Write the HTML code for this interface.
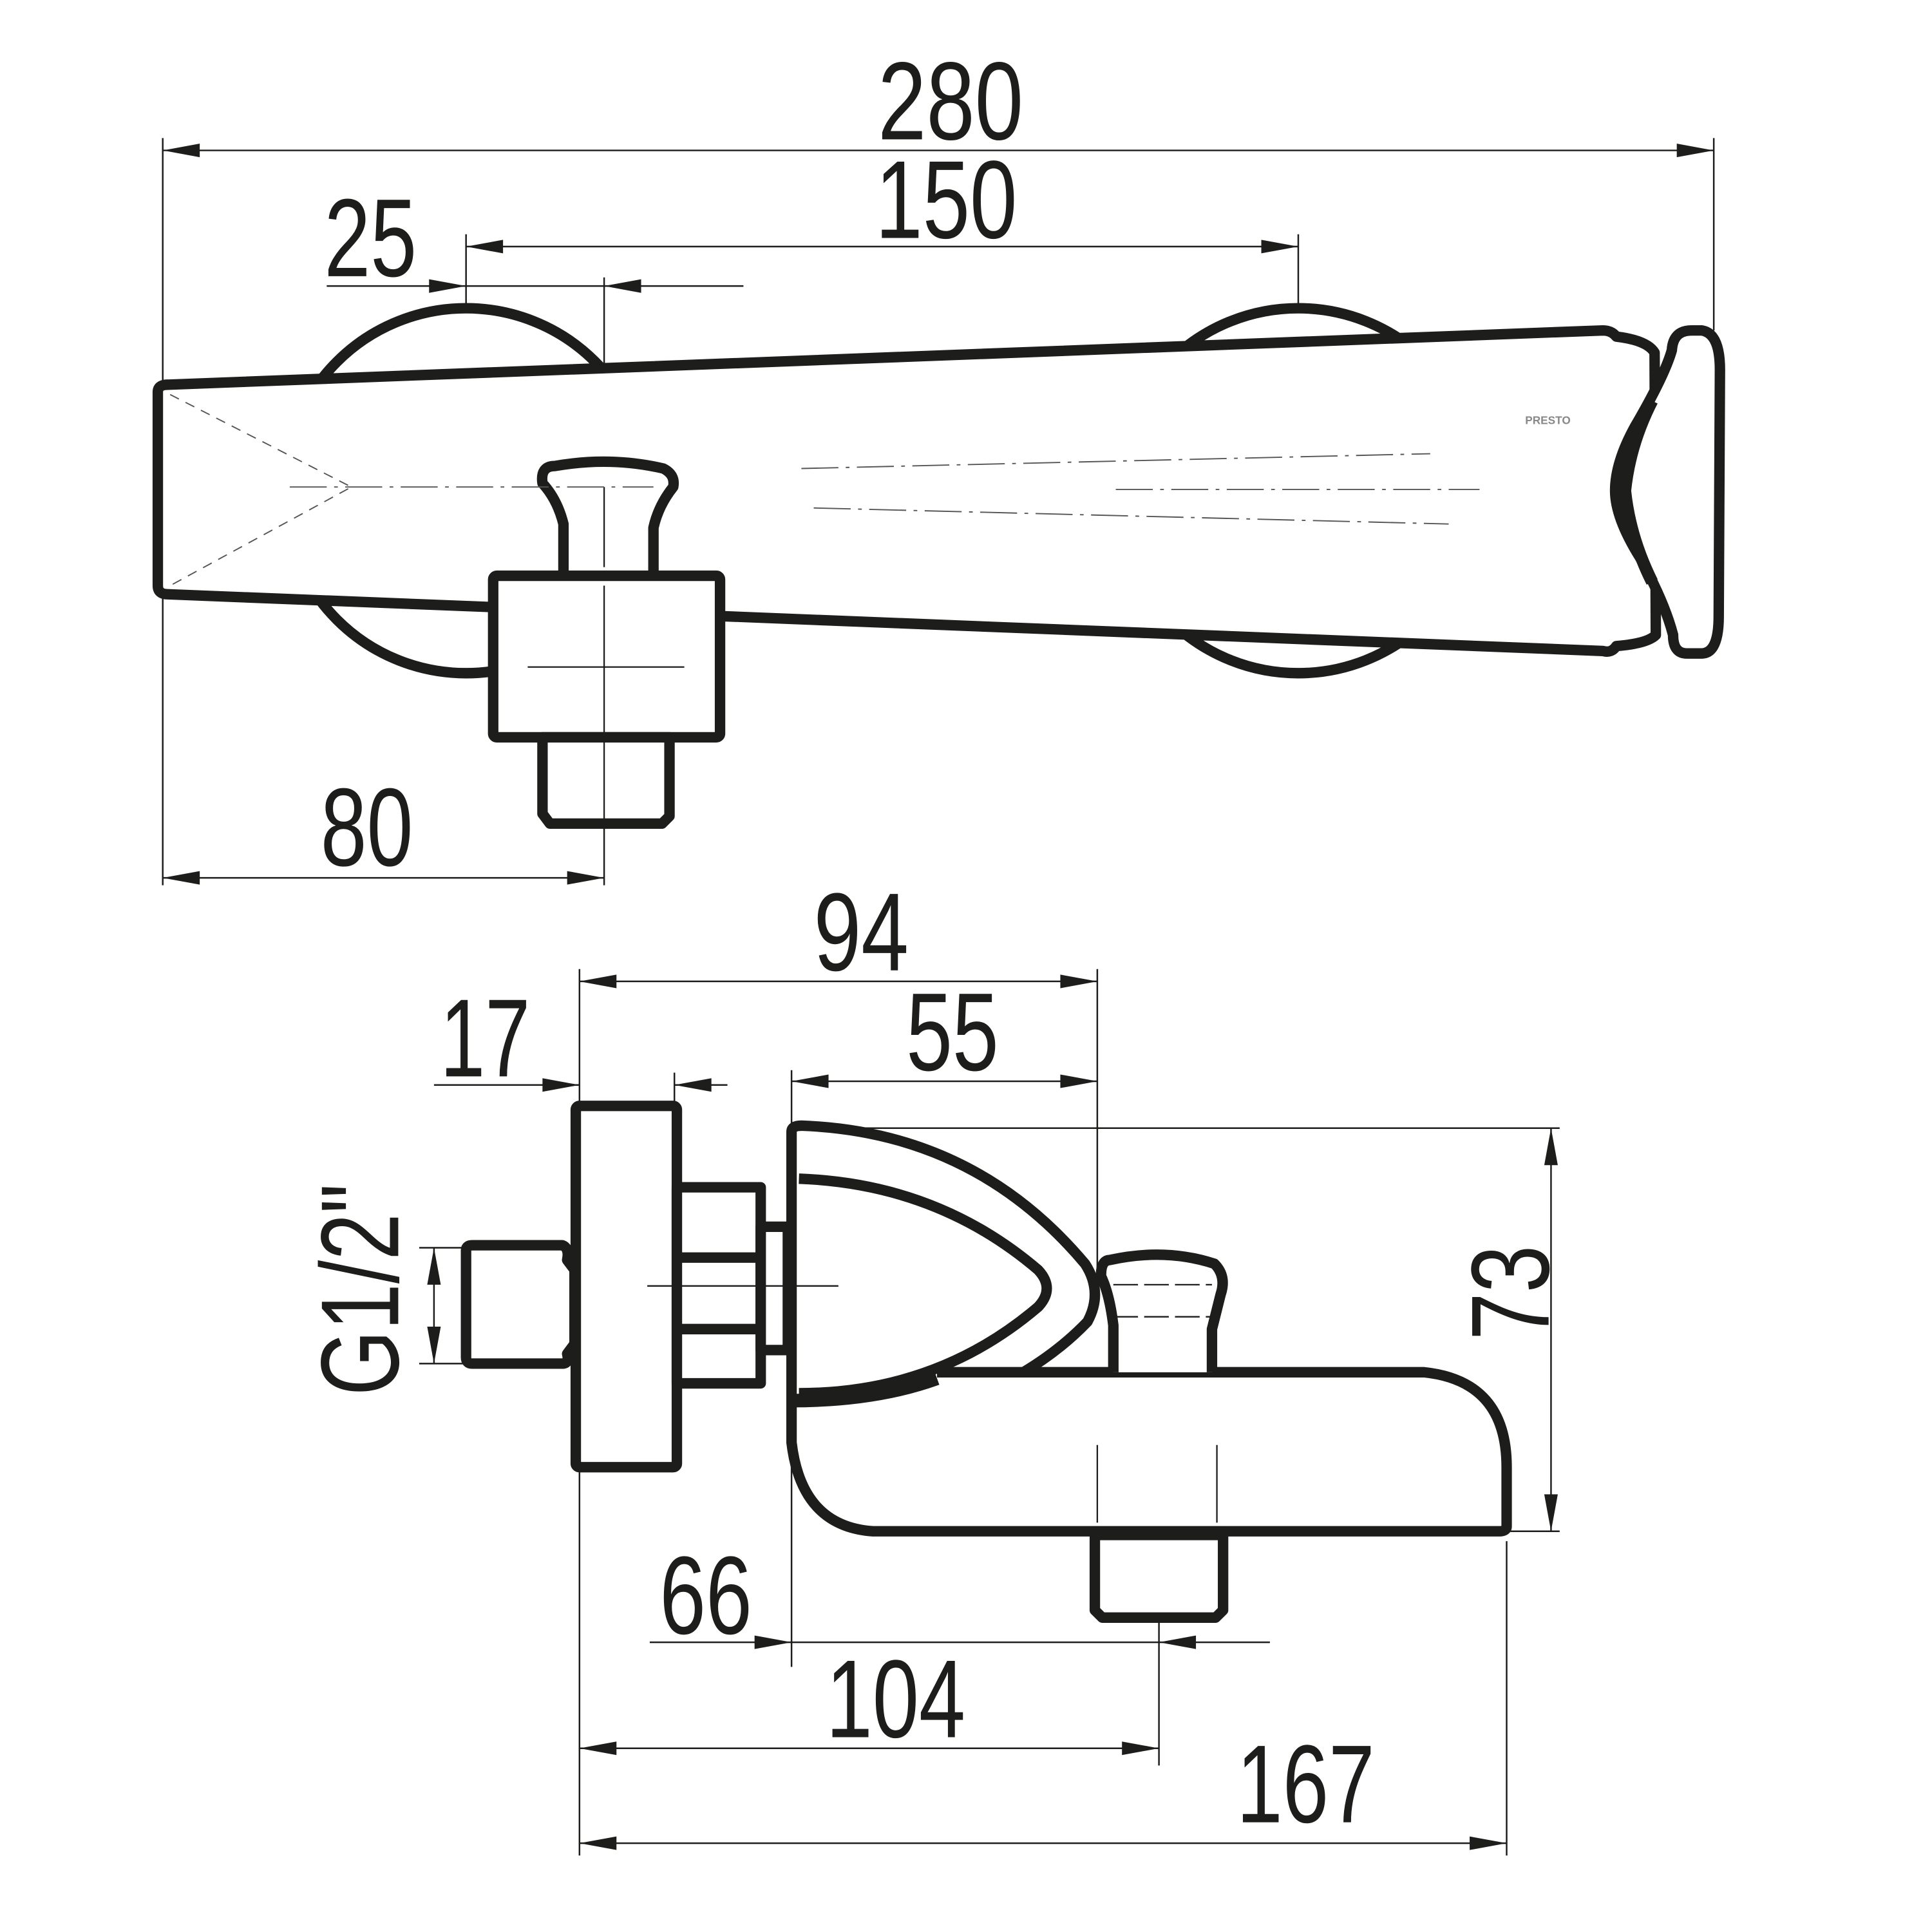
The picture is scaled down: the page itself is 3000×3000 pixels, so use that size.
<!DOCTYPE html>
<html><head><meta charset="utf-8"><style>
html,body{margin:0;padding:0;background:#fff}
svg{display:block}
text{font-family:"Liberation Sans",sans-serif;fill:#1d1d1b}
</style></head><body>
<svg width="3000" height="3000" viewBox="0 0 1567 1567" xmlns="http://www.w3.org/2000/svg">
<defs>
<marker id="a" markerUnits="userSpaceOnUse" markerWidth="32" markerHeight="14" viewBox="-31 -7 32 14" refX="0" refY="0" orient="auto-start-reverse">
<path d="M0,0 L-30,-5.5 L-30,5.5 Z" fill="#1d1d1b"/></marker>
</defs>
<g stroke="#1d1d1b" stroke-width="1.3" fill="none">
<line x1="132" y1="112" x2="132" y2="718"/>
<line x1="1390" y1="112" x2="1390" y2="268"/>
<line x1="132" y1="122" x2="1390" y2="122" marker-start="url(#a)" marker-end="url(#a)"/>
<line x1="378" y1="190" x2="378" y2="548"/>
<line x1="1053" y1="190" x2="1053" y2="548"/>
<line x1="378" y1="200" x2="1053" y2="200" marker-start="url(#a)" marker-end="url(#a)"/>
<line x1="490" y1="225" x2="490" y2="718"/>
<line x1="265" y1="232" x2="378" y2="232" marker-end="url(#a)"/>
<line x1="603" y1="232" x2="490" y2="232" marker-end="url(#a)"/>
<line x1="378" y1="232" x2="490" y2="232"/>
<line x1="132" y1="712" x2="490" y2="712" marker-start="url(#a)" marker-end="url(#a)"/>
<line x1="470" y1="786" x2="470" y2="1505"/>
<line x1="890" y1="786" x2="890" y2="1030"/>
<line x1="470" y1="796" x2="890" y2="796" marker-start="url(#a)" marker-end="url(#a)"/>
<line x1="547" y1="870" x2="547" y2="895"/>
<line x1="352" y1="880" x2="470" y2="880" marker-end="url(#a)"/>
<line x1="590" y1="880" x2="547" y2="880" marker-end="url(#a)"/>
<line x1="642" y1="868" x2="642" y2="1352"/>
<line x1="642" y1="877" x2="890" y2="877" marker-start="url(#a)" marker-end="url(#a)"/>
<line x1="640" y1="915" x2="1265" y2="915"/>
<line x1="1225" y1="1242" x2="1265" y2="1242"/>
<line x1="1258" y1="915" x2="1258" y2="1242" marker-start="url(#a)" marker-end="url(#a)"/>
<line x1="340" y1="1012" x2="380" y2="1012"/>
<line x1="340" y1="1106" x2="380" y2="1106"/>
<line x1="352" y1="1012" x2="352" y2="1106" marker-start="url(#a)" marker-end="url(#a)"/>
<line x1="940" y1="1200" x2="940" y2="1432"/>
<line x1="527" y1="1332" x2="642" y2="1332" marker-end="url(#a)"/>
<line x1="1030" y1="1332" x2="940" y2="1332" marker-end="url(#a)"/>
<line x1="642" y1="1332" x2="940" y2="1332"/>
<line x1="470" y1="1418" x2="940" y2="1418" marker-start="url(#a)" marker-end="url(#a)"/>
<line x1="1222" y1="1250" x2="1222" y2="1505"/>
<line x1="470" y1="1495" x2="1222" y2="1495" marker-start="url(#a)" marker-end="url(#a)"/>
</g>

<g stroke="#1d1d1b" stroke-width="8.5" fill="#fff" stroke-linejoin="round">
<circle cx="378" cy="398" r="148"/>
<circle cx="1053" cy="398" r="148"/>
<path d="M128,318 Q128,312 136,312 L1300,268 Q1307,268 1311,273 Q1336,276 1342,286 L1343,515 Q1336,522 1311,524 Q1307,530 1300,528 L136,482 Q128,482 128,475 Z"/>
<path d="M1356,284 Q1357,268 1372,268 L1380,268 Q1395,270 1395,300 L1394,500 Q1394,530 1380,530 L1368,530 Q1357,530 1357,515 Q1350,488 1330,452 Q1310,420 1310,398 Q1310,375 1326,346 Q1350,305 1356,284 Z"/>
<path d="M1340,325 Q1322,360 1318,398 Q1322,436 1340,472" fill="none" stroke-width="10"/>
<path d="M457,465 L457,425 Q452,405 440,392 Q438,378 450,378 Q495,370 538,380 Q548,385 546,395 Q534,410 530,428 L530,465"/>
<rect x="400" y="467" width="184" height="131" rx="3"/>
<path d="M440,598 L543,598 L543,662 L537,668 L446,668 L440,660 Z"/>
</g>
<g stroke="#1d1d1b" stroke-width="1.2" fill="none">
<line x1="428" y1="541" x2="555" y2="541"/>
<line x1="490" y1="475" x2="490" y2="598"/>
<line x1="490" y1="600" x2="490" y2="668"/>
<line x1="490" y1="395" x2="490" y2="460"/>
</g>
<g stroke="#555" stroke-width="1" fill="none" stroke-dasharray="30 6 3 6">
<line x1="235" y1="395" x2="530" y2="395"/>
<line x1="650" y1="380" x2="1160" y2="368"/>
<line x1="660" y1="412" x2="1175" y2="425"/>
<line x1="905" y1="397" x2="1200" y2="397"/>
<path d="M138,320 L285,395 L138,475" stroke-dasharray="8 6"/>
</g>
<text x="1237" y="344" font-size="9" font-weight="bold" style="fill:#888">PRESTO</text>

<g stroke="#1d1d1b" stroke-width="8.5" fill="#fff" stroke-linejoin="round">
<path d="M378,1014 Q378,1010 383,1010 L456,1010 Q462,1012 460,1022 L466,1030 L466,1090 L460,1098 Q462,1106 456,1106 L383,1106 Q378,1106 378,1101 Z"/>
<rect x="467" y="897" width="82" height="293" rx="3"/>
<rect x="549" y="963" width="68" height="159"/>
<rect x="617" y="995" width="22" height="100"/>
<path d="M642,918 Q642,913 650,913 Q790,918 880,1025 Q895,1048 882,1072 Q860,1095 830,1113 L1155,1113 Q1222,1120 1222,1190 L1222,1238 Q1222,1242 1216,1242 L708,1242 Q650,1238 642,1170 Z"/>
<path d="M648,956 Q760,960 842,1030 Q856,1045 842,1060 Q760,1130 648,1130" fill="none"/>
<path d="M642,1136 Q710,1136 760,1118" fill="none" stroke-width="11"/>
<line x1="760" y1="1113" x2="835" y2="1113"/>
<path d="M903,1113 L903,1075 Q900,1050 893,1035 Q893,1022 900,1022 Q945,1012 985,1025 Q995,1035 990,1050 L983,1078 L983,1113"/>
<path d="M888,1245 L992,1245 L992,1306 L986,1312 L894,1312 L888,1306 Z"/>
</g>
<g stroke="#1d1d1b" stroke-width="1.2" fill="none">
<line x1="549" y1="1020" x2="617" y2="1020" stroke-width="8.5"/>
<line x1="549" y1="1078" x2="617" y2="1078" stroke-width="8.5"/>
<line x1="525" y1="1043" x2="680" y2="1043"/>
<line x1="890" y1="1172" x2="890" y2="1235"/>
<line x1="987" y1="1172" x2="987" y2="1235"/>
<line x1="903" y1="1042" x2="983" y2="1042" stroke-dasharray="20 5"/>
<line x1="903" y1="1068" x2="983" y2="1068" stroke-dasharray="20 5"/>
</g>

<g font-size="90">
<text x="712" y="113" textLength="118" lengthAdjust="spacingAndGlyphs">280</text>
<text x="710" y="193" textLength="115" lengthAdjust="spacingAndGlyphs">150</text>
<text x="263" y="224" textLength="75" lengthAdjust="spacingAndGlyphs">25</text>
<text x="260" y="702" textLength="75" lengthAdjust="spacingAndGlyphs">80</text>
<text x="660" y="787" textLength="77" lengthAdjust="spacingAndGlyphs">94</text>
<text x="357" y="873" textLength="73" lengthAdjust="spacingAndGlyphs">17</text>
<text x="735" y="868" textLength="75" lengthAdjust="spacingAndGlyphs">55</text>
<text x="535" y="1325" textLength="75" lengthAdjust="spacingAndGlyphs">66</text>
<text x="670" y="1409" textLength="113" lengthAdjust="spacingAndGlyphs">104</text>
<text x="1003" y="1478" textLength="112" lengthAdjust="spacingAndGlyphs">167</text>
<text transform="translate(1256,1087) rotate(-90)" textLength="77" lengthAdjust="spacingAndGlyphs">73</text>
<text transform="translate(323,1132) rotate(-90)" textLength="172" lengthAdjust="spacingAndGlyphs">G1/2"</text>
</g>
</svg>
</body></html>
